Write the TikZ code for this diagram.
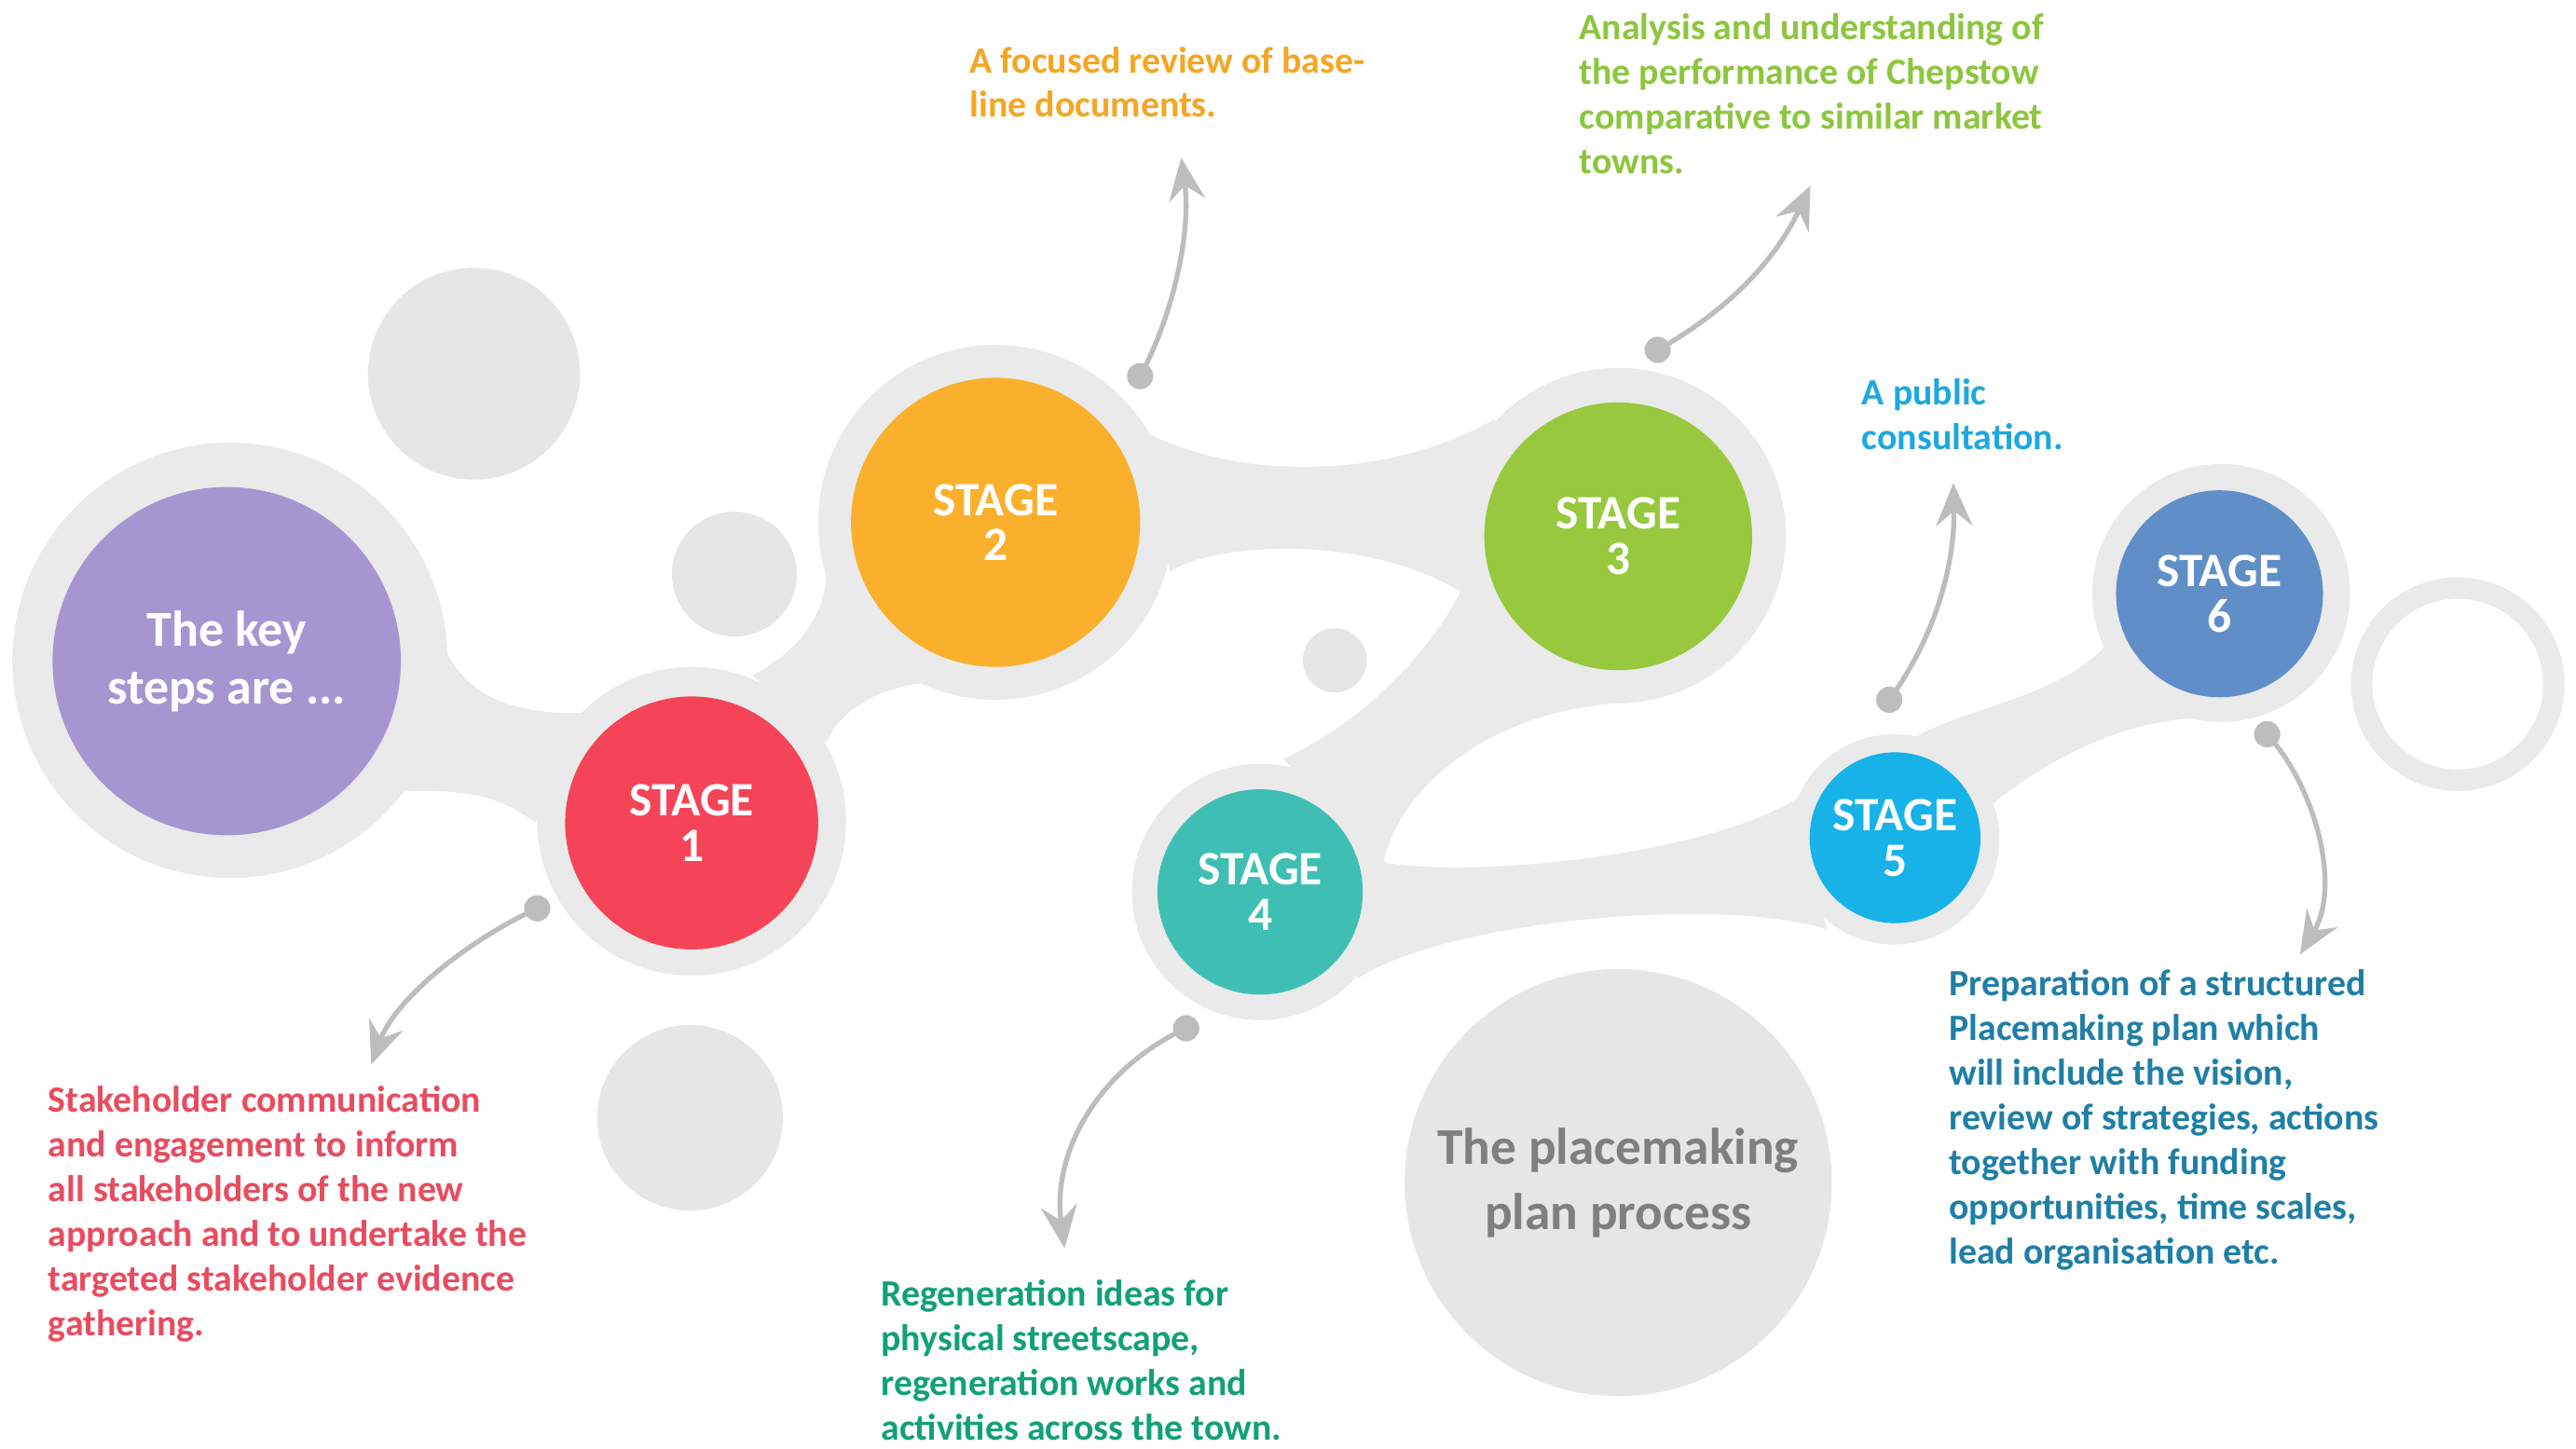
\documentclass[tikz,border=0pt]{standalone}
\usepackage{fontspec}
\setmainfont{Carlito}
\usetikzlibrary{arrows.meta}
\definecolor{halo}{HTML}{EAEAEA}
\definecolor{deco}{HTML}{E6E6E6}
\definecolor{arrowgray}{HTML}{BDBDBD}
\definecolor{cpurple}{HTML}{A596D1}
\definecolor{cred}{HTML}{F54457}
\definecolor{corange}{HTML}{FBB02D}
\definecolor{cgreen}{HTML}{97C83D}
\definecolor{cteal}{HTML}{3FBFB3}
\definecolor{cblue}{HTML}{16B2E8}
\definecolor{csteel}{HTML}{608FC8}
\definecolor{tred}{HTML}{E84C60}
\definecolor{torange}{HTML}{F5A623}
\definecolor{tgreen}{HTML}{8DC63F}
\definecolor{tblue}{HTML}{1DA8DF}
\definecolor{tsteel}{HTML}{1F7FA6}
\definecolor{tteal}{HTML}{12A07A}
\definecolor{tgray}{HTML}{7F7F7F}
\begin{document}
\begin{tikzpicture}[x=0.5pt,y=-0.5pt,
  halo/.style={circle,fill=halo,inner sep=0pt},
  deco/.style={circle,fill=deco,inner sep=0pt},
  disk/.style={circle,inner sep=0pt,text=white,align=center,
    font=\bfseries\fontsize{14.6pt}{13.8pt}\selectfont},
  txt/.style={anchor=north west,inner sep=0pt,align=left,
    font=\bfseries\fontsize{11.3pt}{13.6pt}\selectfont},
  pin/.style={circle,fill=arrowgray,inner sep=0pt,minimum size=8pt},
  callout/.style={draw=arrowgray,line width=1.5pt,
    -{Stealth[length=13pt,width=11pt,inset=4.5pt]}},
  blob/.style={fill=halo}]
\useasboundingbox (0,0) rectangle (1568,882);
\fill[white] (0,0) rectangle (1568,882);

% decorative circles
\node[deco,minimum size=64.5pt] (dA) at (288.5,227.5) {};
\node[deco,minimum size=38pt] (dB) at (447,349.5) {};
\node[deco,minimum size=19.5pt] (dC) at (812.5,402) {};
\node[deco,minimum size=56.5pt] (dD) at (420,680.5) {};
\node[deco,minimum size=130pt,text=tgray,align=center,
  font=\bfseries\fontsize{15.7pt}{20pt}\selectfont] (proc) at (985,720)
  {The placemaking\\plan process};
\node[circle,draw=halo,line width=6.5pt,inner sep=0pt,minimum size=58.5pt] (ring) at (1496,416.5) {};

% connector blobs
\fill[blob] (272,397) .. controls (285,425) and (315,435) .. (354,434)
  -- (326,501) .. controls (305,485) and (285,480) .. (243,482) -- cycle;
\fill[blob] (458,411) .. controls (490,395) and (503,370) .. (503,348)
  -- (560,416) .. controls (530,420) and (510,435) .. (503,452) -- cycle;
\fill[blob] (699,264) .. controls (750,290) and (840,295) .. (910,255)
  -- (889,360) .. controls (830,325) and (740,330) .. (712,348) -- cycle;
\fill[blob] (889,360) .. controls (872,395) and (830,440) .. (781,462)
  -- (842,525) .. controls (855,470) and (920,430) .. (990,428) -- cycle;
\fill[blob] (842,525) .. controls (900,535) and (1040,520) .. (1094,486)
  -- (1112,566) .. controls (1050,545) and (880,560) .. (826,596) -- cycle;
\fill[blob] (1165,449) .. controls (1200,430) and (1250,425) .. (1281,394)
  -- (1337,437) .. controls (1290,440) and (1250,460) .. (1212,490) -- cycle;

% halos
\node[halo,minimum size=132.5pt] (hP) at (140,402) {};
\node[halo,minimum size=94pt] (h1) at (421,500) {};
\node[halo,minimum size=108pt] (h2) at (606,318) {};
\node[halo,minimum size=102pt] (h3) at (985,326) {};
\node[halo,minimum size=78pt] (h4) at (767,543) {};
\node[halo,minimum size=64pt] (h5) at (1153,511) {};
\node[halo,minimum size=78.5pt] (h6) at (1352,361) {};

% coloured disks
\node[disk,fill=cpurple,minimum size=106pt,
  font=\bfseries\fontsize{15.3pt}{17.5pt}\selectfont] (P) at (138,402.5) {The key\\steps are ...};
\node[disk,fill=cred,minimum size=77pt] (s1) at (421,501) {STAGE\\1};
\node[disk,fill=corange,minimum size=88pt] (s2) at (606,318) {STAGE\\2};
\node[disk,fill=cgreen,minimum size=81.5pt] (s3) at (985,326.5) {STAGE\\3};
\node[disk,fill=cteal,minimum size=62.5pt] (s4) at (767,543) {STAGE\\4};
\node[disk,fill=cblue,minimum size=52pt] (s5) at (1153.5,510) {STAGE\\5};
\node[disk,fill=csteel,minimum size=63pt] (s6) at (1351,361.5) {STAGE\\6};

% callout pins and arrows
\node[pin] (p1) at (327,553) {};
\node[pin] (p2) at (694,229) {};
\node[pin] (p3) at (1009,213) {};
\node[pin] (p4) at (722,626) {};
\node[pin] (p5) at (1150,426) {};
\node[pin] (p6) at (1380,447) {};
\coordinate (a1) at (226,648);
\coordinate (a2) at (719,96);
\coordinate (a3) at (1102,113);
\coordinate (a4) at (648,760);
\coordinate (a5) at (1189,294);
\coordinate (a6) at (1400,581);
\draw[callout] (p1.center) .. controls (280,575) and (240,610) .. (a1);
\draw[callout] (p2.center) .. controls (715,190) and (725,140) .. (a2);
\draw[callout] (p3.center) .. controls (1050,190) and (1080,160) .. (a3);
\draw[callout] (p4.center) .. controls (670,650) and (640,700) .. (a4);
\draw[callout] (p5.center) .. controls (1180,385) and (1190,340) .. (a5);
\draw[callout] (p6.center) .. controls (1410,480) and (1425,540) .. (a6);

% texts
\node[txt,text=tred] (t1) at (29,661) {Stakeholder communication\\and engagement to inform\\all stakeholders of the new\\approach and to undertake the\\targeted stakeholder evidence\\gathering.};
\node[txt,text=torange] (t2) at (590,28) {A focused review of base-\\line documents.};
\node[txt,text=tgreen] (t3) at (961,8) {Analysis and understanding of\\the performance of Chepstow\\comparative to similar market\\towns.};
\node[txt,text=tteal] (t4) at (536,779) {Regeneration ideas for\\physical streetscape,\\regeneration works and\\activities across the town.};
\node[txt,text=tblue] (t5) at (1133,230) {A public\\consultation.};
\node[txt,text=tsteel] (t6) at (1186,590) {Preparation of a structured\\Placemaking plan which\\will include the vision,\\review of strategies, actions\\together with funding\\opportunities, time scales,\\lead organisation etc.};
\end{tikzpicture}
\end{document}
